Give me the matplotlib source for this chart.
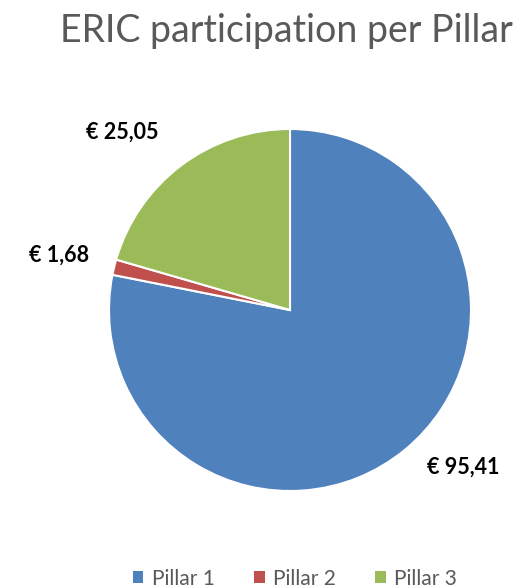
import numpy as np
import matplotlib.pyplot as plt
from matplotlib.patches import Patch

plt.rcParams["font.family"] = ["Lato", "DejaVu Sans"]

pillars = ["Pillar 1", "Pillar 2", "Pillar 3"]
amounts = [95.41, 1.68, 25.05]
amount_labels = ["€ 95,41", "€ 1,68", "€ 25,05"]
colors = ["#4F81BD", "#C0504D", "#9BBB59"]

fig = plt.figure(figsize=(5.23, 5.88), dpi=100)
fig.text(0.548, 0.948, "ERIC participation per Pillar", ha="center", va="center",
         fontsize=27, color="#595959")

ax = fig.add_axes([109 / 523, 97 / 588, 362 / 523, 362 / 588])
wedges, _ = ax.pie(amounts, colors=colors, startangle=90, counterclock=False,
                   wedgeprops=dict(edgecolor="white", linewidth=1.5))
ax.set_xlim(-1, 1)
ax.set_ylim(-1, 1)
ax.set_aspect("equal")
ax.axis("off")

# data labels outside each wedge ("best fit" style placement)
label_dist = [1.29, 1.31, 1.35]
label_turn = [8.4, 0.3, 6.3]
for w, txt, d, turn in zip(wedges, amount_labels, label_dist, label_turn):
    ang = np.deg2rad((w.theta1 + w.theta2) / 2 + turn)
    ax.text(d * np.cos(ang), d * np.sin(ang), txt, ha="center", va="center",
            fontsize=15.5, fontweight="bold", color="black", clip_on=False)

handles = [Patch(facecolor=c, edgecolor="none") for c in colors]
fig.legend(handles, pillars, loc="center", bbox_to_anchor=(0.564, 0.016), ncol=3,
           frameon=False, fontsize=15, labelcolor="#595959", handlelength=0.5,
           handleheight=0.5, handletextpad=0.4, columnspacing=1.9)

fig.savefig("out.png", dpi=100, facecolor="white")
